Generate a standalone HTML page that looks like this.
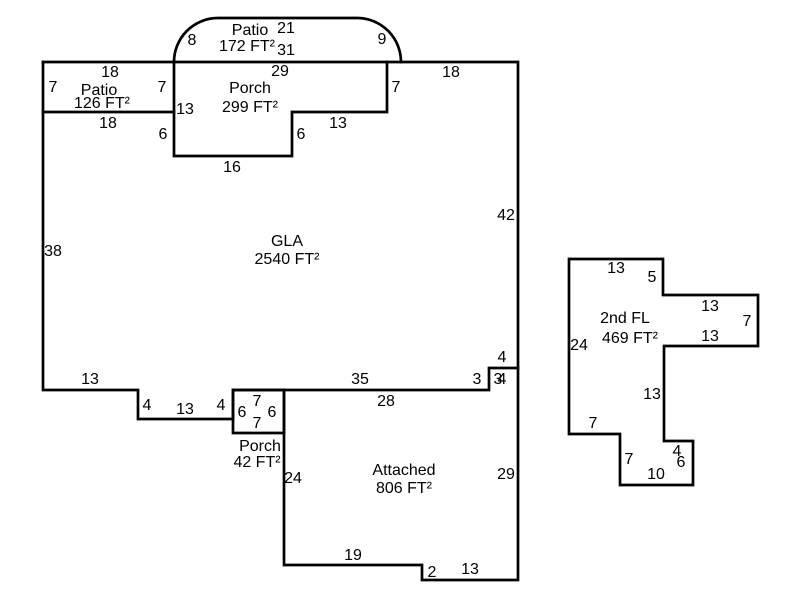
<!DOCTYPE html>
<html>
<head>
<meta charset="utf-8">
<style>
html,body{margin:0;padding:0;background:#fff;}
svg{display:block;}
text{font-family:"Liberation Sans",Arial,sans-serif;font-size:16px;fill:#000;text-anchor:middle;}
path{fill:none;stroke:#000;stroke-width:2.7;stroke-linejoin:miter;stroke-linecap:square;}
</style>
</head>
<body>
<svg width="800" height="600" viewBox="0 0 800 600" xmlns="http://www.w3.org/2000/svg">
<path d="M43 62H518V580H422V565H284V390"/>
<path d="M43 62V390H138V419H233V390H489V368H518"/>
<path d="M233 390H284V433H233Z"/>
<path d="M174 62V156H292V112H387V62"/>
<path d="M43 112H174"/>
<path d="M174 62A44 44 0 0 1 218 18H358A44 44 0 0 1 401 62"/>
<path d="M569 259H663V295H758V346H664V441H693V485H620V434H569Z"/>

<text x="250" y="35">Patio</text>
<text x="247" y="51">172 FT²</text>
<text x="286" y="33">21</text>
<text x="286" y="55">31</text>
<text x="192" y="45">8</text>
<text x="382" y="44">9</text>

<text x="110" y="77">18</text>
<text x="53" y="92">7</text>
<text x="99" y="95">Patio</text>
<text x="102" y="108">126 FT²</text>
<text x="162" y="92">7</text>
<text x="108" y="128">18</text>
<text x="185" y="114">13</text>
<text x="163" y="139">6</text>

<text x="280" y="76">29</text>
<text x="250" y="93">Porch</text>
<text x="250" y="112">299 FT²</text>
<text x="396" y="92">7</text>
<text x="338" y="128">13</text>
<text x="301" y="139">6</text>
<text x="232" y="172">16</text>
<text x="451" y="77">18</text>

<text x="506" y="220">42</text>
<text x="53" y="256">38</text>
<text x="287" y="246">GLA</text>
<text x="287" y="264">2540 FT²</text>

<text x="90" y="384">13</text>
<text x="147" y="410">4</text>
<text x="185" y="414">13</text>
<text x="221" y="410">4</text>
<text x="242" y="417">6</text>
<text x="257" y="406">7</text>
<text x="257" y="428">7</text>
<text x="272" y="417">6</text>
<text x="260" y="451">Porch</text>
<text x="257" y="467">42 FT²</text>
<text x="293" y="483">24</text>

<text x="360" y="384">35</text>
<text x="386" y="406">28</text>
<text x="477" y="384">3</text>
<text x="498" y="384">3</text>
<text x="502" y="384">4</text>
<text x="502" y="362">4</text>

<text x="404" y="475">Attached</text>
<text x="404" y="493">806 FT²</text>
<text x="506" y="479">29</text>
<text x="353" y="560">19</text>
<text x="432" y="577">2</text>
<text x="470" y="574">13</text>

<text x="616" y="273">13</text>
<text x="652" y="282">5</text>
<text x="625" y="323">2nd FL</text>
<text x="630" y="343">469 FT²</text>
<text x="579" y="350">24</text>
<text x="710" y="311">13</text>
<text x="747" y="326">7</text>
<text x="710" y="341">13</text>
<text x="652" y="399">13</text>
<text x="593" y="428">7</text>
<text x="629" y="464">7</text>
<text x="677" y="456">4</text>
<text x="681" y="467">6</text>
<text x="656" y="479">10</text>
</svg>
</body>
</html>
